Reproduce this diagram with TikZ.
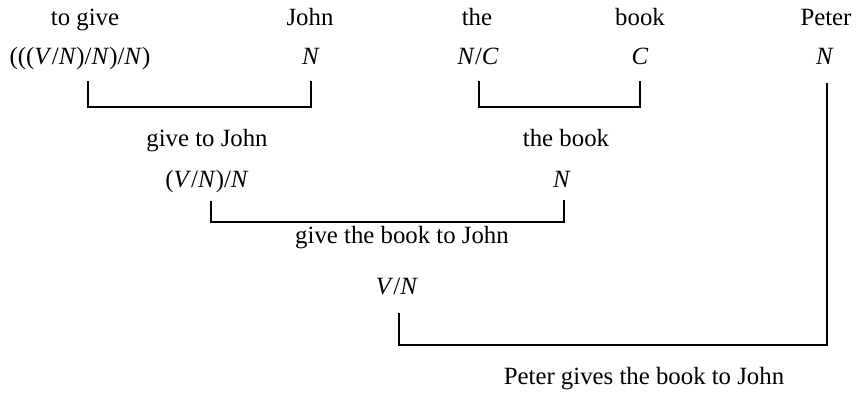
\documentclass[tikz,border=0pt]{standalone}
\usepackage{fontspec}
\setmainfont{Liberation Serif}
\begin{document}
\begin{tikzpicture}[x=0.5pt,y=-0.5pt,
  lbl/.style={inner sep=0pt,anchor=base,font=\fontsize{12.4}{15}\selectfont},
  brk/.style={line width=1.2pt,line cap=rect}]
\useasboundingbox (0,0) rectangle (858,394);
% row 1: words
\node[lbl] (w1) at (85,26) {to give};
\node[lbl] (w2) at (310,26) {John};
\node[lbl] (w3) at (477,26) {the};
\node[lbl] (w4) at (640,26) {book};
\node[lbl] (w5) at (826,26) {Peter};
% row 2: categories
\node[lbl] (c1) at (80,65) {(((\textit{V}/\textit{N})/\textit{N})/\textit{N})};
\node[lbl] (c2) at (311,65) {\textit{N}};
\node[lbl] (c3) at (478,65) {\textit{N}/\textit{C}};
\node[lbl] (c4) at (640,65) {\textit{C}};
\node[lbl] (c5) at (825,65) {\textit{N}};
% brackets level 1
\coordinate (b1l) at (88,82);
\coordinate (b1r) at (311,82);
\draw[brk] (b1l) -- (88,107) -- (311,107) -- (b1r);
\coordinate (b2l) at (479,82);
\coordinate (b2r) at (640,82);
\draw[brk] (b2l) -- (479,107) -- (640,107) -- (b2r);
% level 2
\node[lbl] (p1) at (207,147) {give to John};
\node[lbl] (p2) at (566,147) {the book};
\node[lbl] (q1) at (207,188) {(\textit{V}/\textit{N})/\textit{N}};
\node[lbl] (q2) at (562,188) {\textit{N}};
\coordinate (b3l) at (211,202);
\coordinate (b3r) at (564,201);
\draw[brk] (b3l) -- (211,222) -- (564,222) -- (b3r);
% level 3
\node[lbl] (p3) at (402,244) {give the book to John};
\node[lbl] (q3) at (397,295) {\textit{V}/\textit{N}};
\coordinate (b4l) at (399,314);
\coordinate (b4r) at (827,84);
\draw[brk] (b4l) -- (399,345) -- (827,345) -- (b4r);
% result
\node[lbl] (p4) at (644,385) {Peter gives the book to John};
\end{tikzpicture}
\end{document}
